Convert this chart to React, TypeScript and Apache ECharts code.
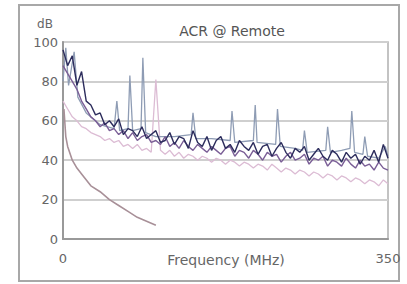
import React, { useEffect, useRef } from "react";
import * as echarts from "echarts";

const freqs = [0, 5, 10, 15, 20, 25, 30, 35, 40, 45, 50, 55, 60, 65, 70, 75, 80, 85, 90, 95, 100, 105, 110, 115, 120, 125, 130, 135, 140, 145, 150, 155, 160, 165, 170, 175, 180, 185, 190, 195, 200, 205, 210, 215, 220, 225, 230, 235, 240, 245, 250, 255, 260, 265, 270, 275, 280, 285, 290, 295, 300, 305, 310, 315, 320, 325, 330, 335, 340, 345, 350];

const pairDark = [96, 88, 93, 78, 85, 70, 68, 63, 64, 58, 60, 57, 61, 53, 56, 55, 52, 57, 51, 53, 55, 49, 50, 54, 48, 52, 51, 46, 55, 49, 47, 52, 45, 50, 52, 46, 48, 44, 50, 47, 45, 49, 43, 47, 48, 42, 46, 49, 44, 41, 46, 44, 47, 40, 43, 46, 42, 40, 45, 43, 39, 44, 41, 43, 38, 42, 40, 45, 39, 48, 41];

const pairPurple = [88, 84, 80, 76, 70, 66, 62, 60, 57, 59, 55, 56, 53, 55, 51, 54, 50, 52, 53, 49, 50, 48, 52, 47, 49, 46, 50, 47, 45, 48, 46, 44, 47, 45, 43, 46, 47, 42, 45, 44, 41, 45, 43, 40, 44, 42, 43, 39, 42, 44, 40, 41, 43, 38, 41, 40, 42, 37, 40, 39, 37, 41, 38, 36, 40, 37, 38, 35, 39, 36, 35];

const pairPink = [70, 66, 62, 60, 57, 56, 54, 53, 52, 50, 51, 49, 50, 47, 48, 46, 48, 45, 46, 44, 81, 45, 43, 45, 42, 44, 41, 43, 42, 40, 42, 41, 39, 41, 40, 38, 40, 39, 37, 39, 38, 36, 38, 37, 35, 38, 36, 34, 36, 35, 33, 35, 34, 32, 34, 33, 31, 33, 32, 30, 32, 31, 29, 31, 30, 28, 30, 29, 27, 30, 28];

const peakPairs: [number, number][] = [
  [0, 80], [3, 97], [6, 78], [12, 95], [16, 72], [25, 64], [40, 58], [55, 56], [58, 70], [61, 55],
  [70, 56], [72, 83], [75, 55], [84, 56], [86, 92], [89, 54], [100, 52], [120, 52], [138, 53],
  [140, 64], [143, 51], [160, 51], [180, 50], [182, 65], [185, 49], [205, 50], [207, 68], [209, 49],
  [229, 48], [231, 66], [234, 47], [250, 46], [258, 45], [260, 55], [263, 44], [283, 45], [285, 57],
  [288, 44], [300, 45], [309, 46], [311, 65], [314, 44], [323, 43], [325, 52], [328, 42], [340, 41],
  [347, 47], [350, 42],
];

const limitPairs: [number, number][] = [
  [1, 66], [3, 52], [5, 47], [10, 40], [15, 36], [20, 33], [30, 27], [40, 24], [50, 20],
  [60, 17], [70, 14], [80, 11], [90, 9], [100, 7],
];

const yTicks = { min: 0, max: 100, interval: 20 };
const xTicks = { min: 0, max: 350, interval: 350 };

const zip = (vals: number[]) => freqs.map((f, i) => [f, vals[i]]);

export default function App() {
  const ref = useRef<HTMLDivElement>(null);
  useEffect(() => {
    if (!ref.current) return;
    const chart = echarts.init(ref.current, undefined, { renderer: "svg" });
    const font = "DejaVu Sans, sans-serif";
    const line = (name: string, data: any[], color: string, width = 1.2, z = 2) => ({
      name,
      type: "line",
      data,
      symbol: "none",
      lineStyle: { color, width },
      z,
    });
    chart.setOption({
      animation: false,
      backgroundColor: "#ffffff",
      title: {
        text: "ACR @ Remote",
        left: 227,
        top: 19,
        textAlign: "center",
        textStyle: { fontSize: 14, fontWeight: "normal", color: "#555", fontFamily: font },
      },
      graphic: [
        {
          type: "rect",
          shape: { x: 19, y: 5, width: 380, height: 276 },
          style: { fill: "none", stroke: "#a8a8a8", lineWidth: 2 },
          silent: true,
        },
        {
          type: "text",
          x: 45,
          y: 24,
          style: {
            text: "dB",
            fontSize: 12,
            fill: "#666",
            fontFamily: font,
            align: "center",
            verticalAlign: "middle",
          },
        },
        {
          type: "text",
          x: 226,
          y: 260,
          style: {
            text: "Frequency (MHz)",
            fontSize: 14,
            fill: "#666",
            fontFamily: font,
            align: "center",
            verticalAlign: "middle",
          },
        },
      ],
      grid: {
        left: 63,
        top: 42,
        right: 19,
        bottom: 45,
        show: true,
        borderColor: "#b0b0b0",
        borderWidth: 1.5,
      },
      xAxis: {
        type: "value",
        min: xTicks.min,
        max: xTicks.max,
        interval: xTicks.interval,
        axisLine: { show: true, lineStyle: { color: "#999", width: 2 } },
        axisTick: { show: false },
        splitLine: { show: false },
        axisLabel: {
          fontSize: 13,
          color: "#666",
          margin: 13,
          fontFamily: font,
          showMinLabel: true,
          showMaxLabel: true,
        },
      },
      yAxis: {
        type: "value",
        min: yTicks.min,
        max: yTicks.max,
        interval: yTicks.interval,
        axisLine: { show: true, lineStyle: { color: "#999", width: 2 } },
        axisTick: { show: false },
        splitLine: { show: true, lineStyle: { color: "#cfcfcf", width: 2 } },
        axisLabel: {
          fontSize: 13,
          color: "#666",
          margin: 5,
          fontFamily: font,
          padding: [5, 0, 0, 0],
        },
      },
      series: [
        line("Limit", limitPairs, "#a89098", 1.6, 1),
        line("Pink", zip(pairPink), "#dcbcd4", 1.3, 2),
        line("Peaks", peakPairs, "#8e9cb4", 1.3, 3),
        line("Purple", zip(pairPurple), "#7a5e96", 1.4, 4),
        line("Dark", zip(pairDark), "#2c2c5c", 1.4, 5),
      ],
    });
    return () => chart.dispose();
  }, []);
  return (
    <div
      ref={ref}
      style={{ position: "fixed", left: 0, top: 0, width: 407, height: 284 }}
    />
  );
}
